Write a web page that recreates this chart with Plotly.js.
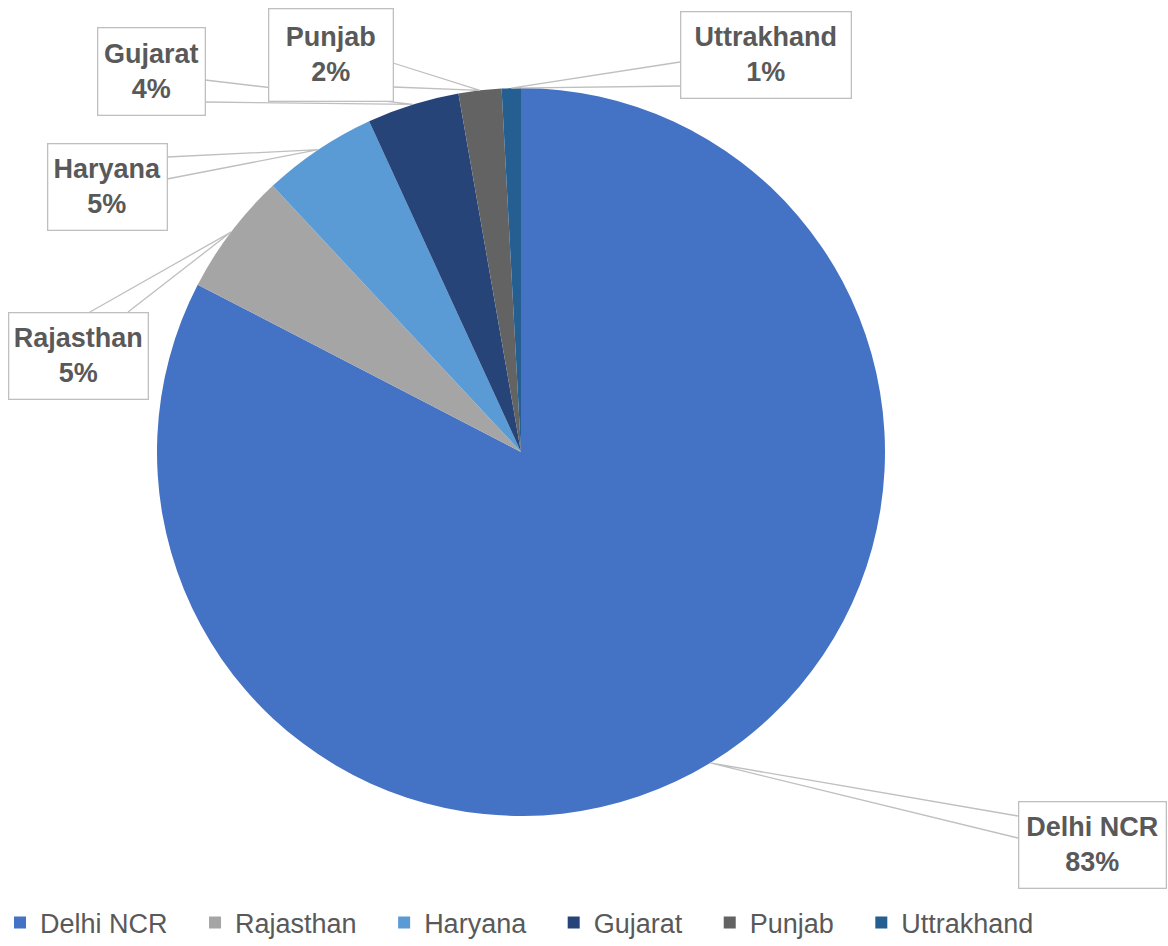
<!DOCTYPE html>
<html>
<head>
<meta charset="utf-8">
<script src="https://cdn.plot.ly/plotly-3.0.1.min.js"></script>
<style>html,body{margin:0;padding:0;background:#fff;}#chart{width:1168px;height:946px;}</style>
</head>
<body>
<div id="chart"></div>
<script>
// ---- data ----
const categories = ["Delhi NCR", "Rajasthan", "Haryana", "Gujarat", "Punjab", "Uttrakhand"];
const shares = [82.6, 5.45, 5.1, 4.1, 1.9, 0.85];
const colors = ["#4472C4", "#A5A5A5", "#5B9BD5", "#264478", "#636363", "#255E91"];

// ---- layout constants ----
const W = 1168, H = 946;
const pieBox = {left: 157, top: 88, size: 728};
// label box positions (pixels): left, top, right, bottom, and two attach points of the callout wedge
const boxes = [
  {l: 1018, t: 801, r: 1166, b: 888, a1: [1018, 816], a2: [1018, 838]},
  {l: 8,    t: 312, r: 148,  b: 399, a1: [90, 312],   a2: [128, 312]},
  {l: 47,   t: 143, r: 167,  b: 230, a1: [167, 157],  a2: [167, 179]},
  {l: 97,   t: 28,  r: 205,  b: 116, a1: [205, 80],   a2: [205, 102]},
  {l: 268,  t: 8,   r: 393,  b: 101, a1: [393, 63],   a2: [393, 87]},
  {l: 680,  t: 12,  r: 851,  b: 99,  a1: [680, 62],   a2: [680, 86]}
];

const px = x => x / W;
const py = y => 1 - y / H;

const total = shares.reduce((a, b) => a + b, 0);
const cx = pieBox.left + pieBox.size / 2, cy = pieBox.top + pieBox.size / 2, R = pieBox.size / 2;

const annotations = [], shapes = [];
let cum = 0;
shares.forEach((v, i) => {
  const mid = (cum + v / 2) / total * 2 * Math.PI; // clockwise from 12 o'clock
  cum += v;
  const tx = cx + R * Math.sin(mid), ty = cy - R * Math.cos(mid);
  const b = boxes[i];
  shapes.push({
    type: "path", xref: "paper", yref: "paper", layer: "above",
    path: `M ${px(b.a1[0])} ${py(b.a1[1])} L ${px(tx)} ${py(ty)} L ${px(b.a2[0])} ${py(b.a2[1])}`,
    line: {color: "#BFBFBF", width: 1.3}
  });
  const pct = Math.round(v / total * 100) + "%";
  annotations.push({
    xref: "paper", yref: "paper",
    x: px((b.l + b.r) / 2), y: py((b.t + b.b) / 2),
    xanchor: "center", yanchor: "middle",
    text: "<b>" + categories[i] + "</b><br><b>" + pct + "</b>",
    showarrow: false,
    width: b.r - b.l - 2, height: b.b - b.t - 2,
    bgcolor: "#FFFFFF", bordercolor: "#BFBFBF", borderwidth: 1.3, borderpad: 0,
    font: {family: "Liberation Sans, Arial, sans-serif", size: 27, color: "#595959"}
  });
});

// legend entries get a little trailing room, as in the original legend spacing
const legendNames = categories.map(c => c + "\u00a0\u00a0\u00a0");

const trace = {
  type: "pie",
  labels: legendNames,
  values: shares,
  sort: false,
  direction: "clockwise",
  rotation: 0,
  textinfo: "none",
  hoverinfo: "label+percent",
  marker: {colors: colors, line: {width: 0}},
  domain: {
    x: [pieBox.left / W, (pieBox.left + pieBox.size) / W],
    y: [1 - (pieBox.top + pieBox.size) / H, 1 - pieBox.top / H]
  }
};

const layout = {
  width: W, height: H,
  margin: {l: 0, r: 0, t: 0, b: 0, autoexpand: false},
  paper_bgcolor: "#FFFFFF",
  showlegend: true,
  legend: {
    orientation: "h",
    x: 0, y: 1 - 923 / H, xanchor: "left", yanchor: "middle",
    font: {family: "Liberation Sans, Arial, sans-serif", size: 27, color: "#595959"},
    itemwidth: 30
  },
  annotations: annotations,
  shapes: shapes
};

Plotly.newPlot("chart", [trace], layout, {displayModeBar: false, staticPlot: true});
</script>
</body>
</html>
